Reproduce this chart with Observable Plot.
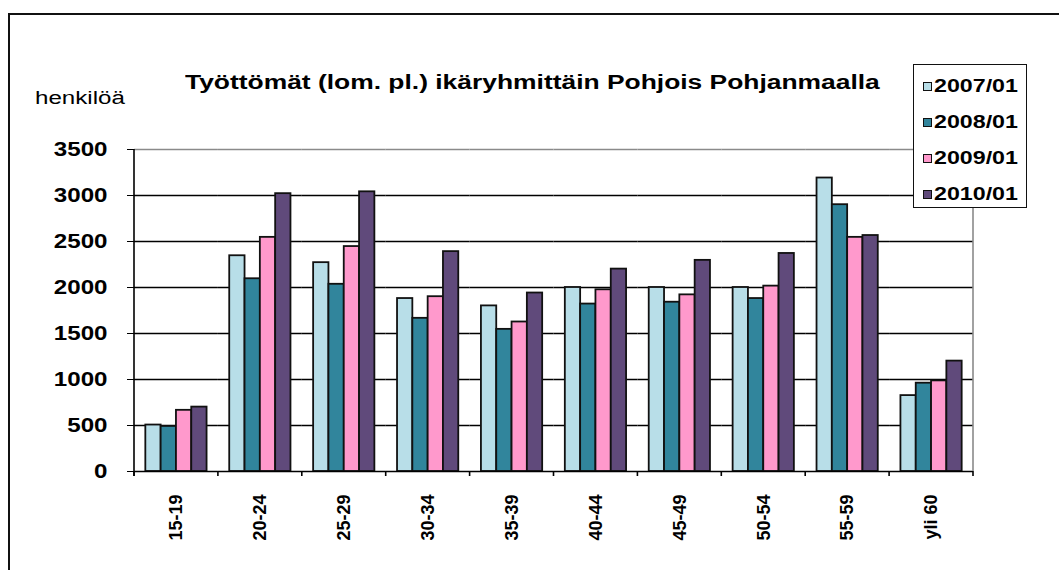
<!DOCTYPE html>
<html>
<head>
<meta charset="utf-8">
<script src="https://cdn.jsdelivr.net/npm/d3@7"></script>
<script src="https://cdn.jsdelivr.net/npm/@observablehq/plot@0.6"></script>
<style>
  html, body { margin: 0; padding: 0; background: white; overflow: hidden; }
  #wrap { position: relative; width: 1059px; height: 570px; overflow: hidden; font-family: "Liberation Sans", Arial, sans-serif; color: #000; }
  #chart { position: absolute; left: 0; top: 0; }
  .fl { position: absolute; background: #111; pointer-events: none; }
  #hl { left: 8px; top: 13px; width: 1051px; height: 2px; }
  #vl { left: 8px; top: 13px; width: 2px; height: 557px; }
  .stretch { position: absolute; white-space: nowrap; transform-origin: 0 50%; }
  #title { left: 185px; top: 72px; font-size: 20px; line-height: 20px; font-weight: bold; transform: scaleX(1.32); }
  #unit { left: 35px; top: 89px; font-size: 18px; line-height: 18px; transform: scaleX(1.34); }
  #legend { position: absolute; left: 913px; top: 64px; width: 112px; height: 142px; border: 1.6px solid #111; background: white; }
  .item { position: absolute; left: 9px; height: 18px; display: flex; align-items: center; }
  .sw { width: 7px; height: 7px; border: 1px solid #111; margin-right: 2px; }
  .lab { font-size: 18px; line-height: 18px; font-weight: bold; transform: scaleX(1.29); transform-origin: 0 50%; white-space: nowrap; }
  svg [aria-label^="y-axis"] text { font-size: 21px; font-weight: bold; }
  svg [aria-label^="fx-axis"] text { font-size: 18px; font-weight: bold; }
</style>
</head>
<body>
<div id="wrap">
  <div id="chart"></div>
  <div id="hl" class="fl"></div>
  <div id="vl" class="fl"></div>
  <div id="title" class="stretch">Työttömät (lom. pl.) ikäryhmittäin Pohjois Pohjanmaalla</div>
  <div id="unit" class="stretch">henkilöä</div>
  <div id="legend"></div>
</div>
<script>
// ---- data ----
const ages = ["15-19", "20-24", "25-29", "30-34", "35-39", "40-44", "45-49", "50-54", "55-59", "yli 60"];
const years = ["2007/01", "2008/01", "2009/01", "2010/01"];
const v2007 = [505, 2345, 2270, 1880, 1800, 2000, 2000, 2000, 3190, 825];
const v2008 = [490, 2095, 2035, 1665, 1545, 1820, 1840, 1880, 2900, 960];
const v2009 = [665, 2545, 2445, 1900, 1625, 1975, 1920, 2015, 2545, 985];
const v2010 = [700, 3020, 3040, 2390, 1940, 2200, 2295, 2370, 2565, 1200];
const yTicks = [0, 500, 1000, 1500, 2000, 2500, 3000, 3500];
const colors = ["#B8DEE8", "#31859C", "#FF99CC", "#604A7B"];

const series = [v2007, v2008, v2009, v2010];
const rows = ages.flatMap((age, i) => years.map((year, j) => ({age, year, value: series[j][i]})));

const plot = Plot.plot({
  width: 1059,
  height: 570,
  marginLeft: 134,
  marginRight: 86,
  marginTop: 149,
  marginBottom: 99,
  style: {fontFamily: "'Liberation Sans', Arial, sans-serif", color: "black", background: "white"},
  x: {domain: years, paddingInner: 0, paddingOuter: 0.74, round: false, axis: null},
  fx: {domain: ages, padding: 0, round: false, axis: "bottom", label: null, tickSize: 0, tickRotate: -90, tickPadding: 23},
  y: {domain: [0, 3500], ticks: yTicks, tickSize: 7, tickPadding: 20, label: null, tickFormat: d => String(d)},
  color: {domain: years, range: colors},
  marks: [
    Plot.ruleY(yTicks.filter(d => d > 0 && d < 3500), {stroke: "black", strokeWidth: 1.4}),
    Plot.ruleY([3500], {stroke: "#8a8a8a", strokeWidth: 1.6}),
    Plot.barY(rows, {fx: "age", x: "year", y: "value", fill: "year", stroke: "#111", strokeWidth: 1.8}),
    Plot.ruleY([0], {stroke: "black", strokeWidth: 1.6})
  ]
});
document.getElementById("chart").appendChild(plot);

// stretch y tick labels horizontally like the original
plot.querySelectorAll('[aria-label^="y-axis"] text').forEach(t => {
  const tr = t.getAttribute("transform");
  if (tr && tr.startsWith("translate")) t.setAttribute("transform", tr + " scale(1.15,1)");
});

// axis lines and category boundary ticks drawn from the library's scales
try {
  const fx = plot.scale("fx");
  const y = plot.scale("y");
  const [r0, r1] = fx.range;
  const step = (r1 - r0) / fx.domain.length;
  const y0 = y.apply(0), yTop = y.apply(3500);
  const g = d3.select(plot).append("g").attr("aria-label", "axis-lines");
  g.append("line").attr("x1", r1).attr("x2", r1).attr("y1", yTop).attr("y2", y0)
    .attr("stroke", "#8a8a8a").attr("stroke-width", 1.6);
  g.append("line").attr("x1", r0).attr("x2", r0).attr("y1", yTop).attr("y2", y0 + 5)
    .attr("stroke", "black").attr("stroke-width", 1.6);
  g.selectAll("line.b").data(d3.range(fx.domain.length + 1)).join("line")
    .attr("class", "b")
    .attr("x1", i => r0 + i * step).attr("x2", i => r0 + i * step)
    .attr("y1", y0).attr("y2", y0 + 5)
    .attr("stroke", "black").attr("stroke-width", 1.6);
} catch (e) { console.error(e); }

// legend
const legend = d3.select("#legend");
const centers = [21, 57, 93, 129];
years.forEach((yr, i) => {
  const it = legend.append("div").attr("class", "item").style("top", (centers[i] - 9) + "px");
  it.append("div").attr("class", "sw").style("background", colors[i]);
  it.append("div").attr("class", "lab").text(yr);
});
</script>
</body>
</html>
